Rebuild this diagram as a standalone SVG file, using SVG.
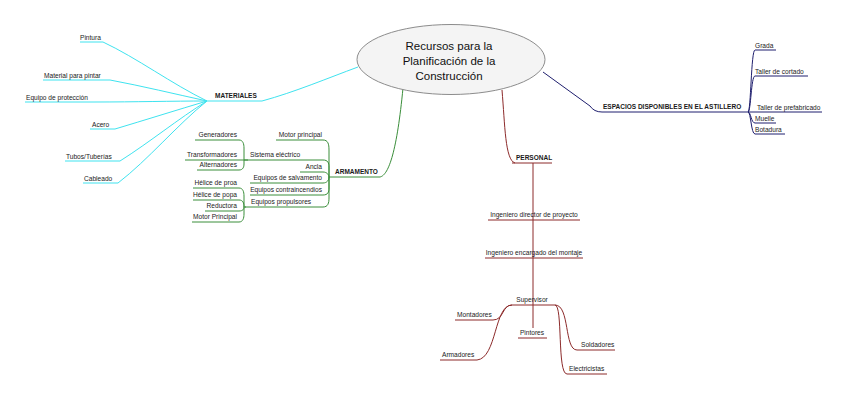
<svg xmlns="http://www.w3.org/2000/svg" width="848" height="400" viewBox="0 0 848 400">
<style>
text{font-family:"Liberation Sans",Arial,sans-serif;fill:#1a1a1a;font-size:6.6px}
.b{font-weight:bold;font-size:6.5px}
.t{font-size:11.5px;fill:#111}
.r{text-anchor:end}
.m{text-anchor:middle}
path{fill:none;stroke-width:1}
.cy{stroke:#3fe3ef}
.nv{stroke:#1f1f6e}
.gr{stroke:#3a8e3a}
.rd{stroke:#8c2a2a}
</style>
<rect width="848" height="400" fill="#ffffff"/>
<g id="connectors">
  <!-- MATERIALES -->
  <g class="cy">
    <path d="M207,101 H262 C295,92 328,78 358,67"/>
    <path d="M80,42 H103 C137,58 172,84 207,101"/>
    <path d="M43,80 H110 C142,86 175,94 207,101"/>
    <path d="M25,102 H95 C135,102 172,101 207,101"/>
    <path d="M90,129 H115 C145,120 177,110 207,101"/>
    <path d="M65,161 H120 C150,142 178,119 207,101"/>
    <path d="M83,183 H118 C148,160 178,124 207,101"/>
  </g>
  <!-- ESPACIOS -->
  <g class="nv">
    <path d="M543,72 L590,106 Q594,112 602,112 H748"/>
    <path d="M748,112 C751,112 751,50 755,50 H776"/>
    <path d="M748,112 C751,112 751,76 755,76 H808"/>
    <path d="M748,112 H822"/>
    <path d="M748,112 C751,112 751,123 755,123 H776"/>
    <path d="M748,112 C751,112 751,134 755,134 H785"/>
  </g>
  <!-- ARMAMENTO -->
  <g class="gr">
    <path d="M329,177 H380 C389,175 397,150 403,88"/>
    <path d="M276,140 H323 C328,140 329,144 329,150 V177"/>
    <path d="M248,160 H323 C328,160 329,163 329,167 V177"/>
    <path d="M300,172 H323 C327,172 329,175 329,177"/>
    <path d="M250,183 H323 C327,183 329,180 329,177"/>
    <path d="M250,195 H323 C328,195 329,192 329,188 V177"/>
    <path d="M245,207 H323 C328,207 329,203 329,198 V177"/>
    <path d="M195,140 H239 C243,140 244,144 244,148 V160 H248"/>
    <path d="M185,160 H248"/>
    <path d="M197,170 H239 C243,170 244,167 244,164 V160"/>
    <path d="M193,188 H239 C243,188 244,192 244,196 V207 H246"/>
    <path d="M193,200 H239 C243,200 244,203 244,207"/>
    <path d="M205,211 H239 C243,211 244,209 244,207"/>
    <path d="M192,222 H239 C243,222 244,218 244,214 V207"/>
  </g>
  <!-- PERSONAL -->
  <g class="rd">
    <path d="M502,90 C505,125 505,160 515,163"/>
    <path d="M512,163 H552"/>
    <path d="M533,163 V328"/>
    <path d="M488,220 H580"/>
    <path d="M485,258 H583"/>
    <path d="M512,305 H555"/>
    <path d="M518,338 H547"/>
    <path d="M455,320 H493 C504,320 502,305 512,305"/>
    <path d="M440,360 H477 C497,358 494,305 512,305"/>
    <path d="M555,305 C570,305 564,350 577,350 H615"/>
    <path d="M555,305 C563,305 557,374 567,374 H607"/>
  </g>
</g>
<g id="root">
  <ellipse cx="451" cy="59.5" rx="94" ry="35" fill="#f4f4f4" stroke="#8c8c8c" stroke-width="1"/>
  <text class="t m" x="449" y="50">Recursos para la</text>
  <text class="t m" x="449" y="65">Planificación de la</text>
  <text class="t m" x="449" y="80">Construcción</text>
</g>
<g id="materiales">
  <text class="b" x="215" y="98">MATERIALES</text>
  <g id="mat-children">
    <text x="80" y="40">Pintura</text>
    <text x="44" y="78">Material para pintar</text>
    <text x="26" y="100">Equipo de protección</text>
    <text x="92" y="127">Acero</text>
    <text x="66" y="159">Tubos/Tuberías</text>
    <text x="84" y="181">Cableado</text>
  </g>
</g>
<g id="espacios">
  <text class="b" x="603" y="109">ESPACIOS DISPONIBLES EN EL ASTILLERO</text>
  <g id="esp-children">
    <text x="755" y="48">Grada</text>
    <text x="755" y="74">Taller de cortado</text>
    <text x="757" y="110">Taller de prefabricado</text>
    <text x="755" y="121">Muelle</text>
    <text x="755" y="132">Botadura</text>
  </g>
</g>
<g id="armamento">
  <text class="b" x="335" y="174">ARMAMENTO</text>
  <g id="arm-children">
    <text class="r" x="322" y="137">Motor principal</text>
    <text x="250" y="157">Sistema eléctrico</text>
    <text class="r" x="322" y="169">Ancla</text>
    <text class="r" x="322" y="180">Equipos de salvamento</text>
    <text class="r" x="322" y="192">Equipos contraincendios</text>
    <text x="251" y="204">Equipos propulsores</text>
  </g>
  <g id="sis-children">
    <text class="r" x="237" y="137">Generadores</text>
    <text class="r" x="237" y="157">Transformadores</text>
    <text class="r" x="237" y="167">Alternadores</text>
  </g>
  <g id="prop-children">
    <text class="r" x="237" y="185">Hélice de proa</text>
    <text class="r" x="237" y="197">Hélice de popa</text>
    <text class="r" x="237" y="208">Reductora</text>
    <text class="r" x="237" y="219">Motor Principal</text>
  </g>
</g>
<g id="personal">
  <text class="b" x="516" y="160">PERSONAL</text>
  <text class="m" x="534" y="217">Ingeniero director de proyecto</text>
  <text class="m" x="534" y="255">Ingeniero encargado del montaje</text>
  <text class="m" x="532" y="302">Supervisor</text>
  <text class="m" x="532" y="335">Pintores</text>
  <text x="457" y="317">Montadores</text>
  <text x="442" y="357">Armadores</text>
  <text x="581" y="347">Soldadores</text>
  <text x="569" y="371">Electricistas</text>
</g>
</svg>
